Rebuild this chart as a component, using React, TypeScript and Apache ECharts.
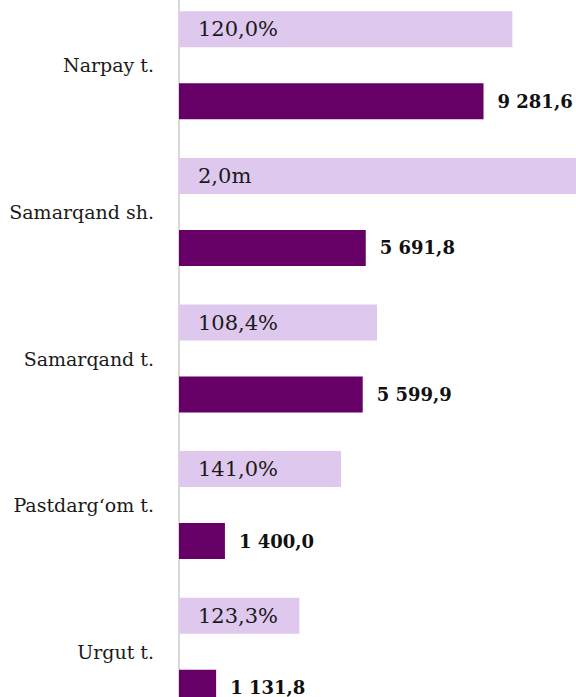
import React, { useEffect, useRef } from "react";
import * as echarts from "echarts";

const categories = ["Narpay t.", "Samarqand sh.", "Samarqand t.", "Pastdarg\u2018om t.", "Urgut t."];
const volumeValues = [9281.6, 5691.8, 5599.9, 1400.0, 1131.8];
const volumeLabels = ["9 281,6", "5 691,8", "5 599,9", "1 400,0", "1 131,8"];
const growthBarValues = [10160, 13000, 6036, 4940, 3670];
const growthLabels = ["120,0%", "2,0m", "108,4%", "141,0%", "123,3%"];

export default function App() {
  const ref = useRef<HTMLDivElement>(null);
  useEffect(() => {
    if (!ref.current) return;
    const chart = echarts.init(ref.current, undefined, { renderer: "svg" });
    chart.setOption({
      animation: false,
      grid: { left: 179, right: 0, top: 0, bottom: 0, containLabel: false },
      xAxis: {
        type: "value",
        min: 0,
        max: 12100,
        show: false,
        splitLine: { show: false },
      },
      yAxis: {
        type: "category",
        data: categories,
        inverse: true,
        axisLine: { show: true, lineStyle: { color: "#d9d9d9", width: 2 } },
        axisTick: { show: false },
        axisLabel: {
          margin: 25,
          fontFamily: "DejaVu Serif",
          fontSize: 19,
          color: "#1a1a1a",
        },
      },
      series: [
        {
          type: "bar",
          data: growthBarValues,
          barWidth: 36,
          barGap: "100%",
          clip: true,
          itemStyle: { color: "#dfc8ee" },
          label: {
            show: true,
            position: "insideLeft",
            distance: 19,
            fontFamily: "DejaVu Serif",
            fontSize: 21,
            color: "#1a1a1a",
            formatter: (p: any) => growthLabels[p.dataIndex],
          },
        },
        {
          type: "bar",
          data: volumeValues,
          barWidth: 36,
          barGap: "100%",
          itemStyle: { color: "#660066" },
          label: {
            show: true,
            position: "right",
            distance: 14,
            fontFamily: "DejaVu Serif",
            fontWeight: "bold",
            fontSize: 18,
            color: "#111111",
            formatter: (p: any) => volumeLabels[p.dataIndex],
          },
        },
      ],
    });
    return () => chart.dispose();
  }, []);
  return (
    <div style={{ width: 576, height: 697, position: "absolute", left: 0, top: 0, overflow: "hidden" }}>
      <div ref={ref} style={{ width: 576, height: 733, position: "absolute", left: 0, top: -8 }} />
    </div>
  );
}
